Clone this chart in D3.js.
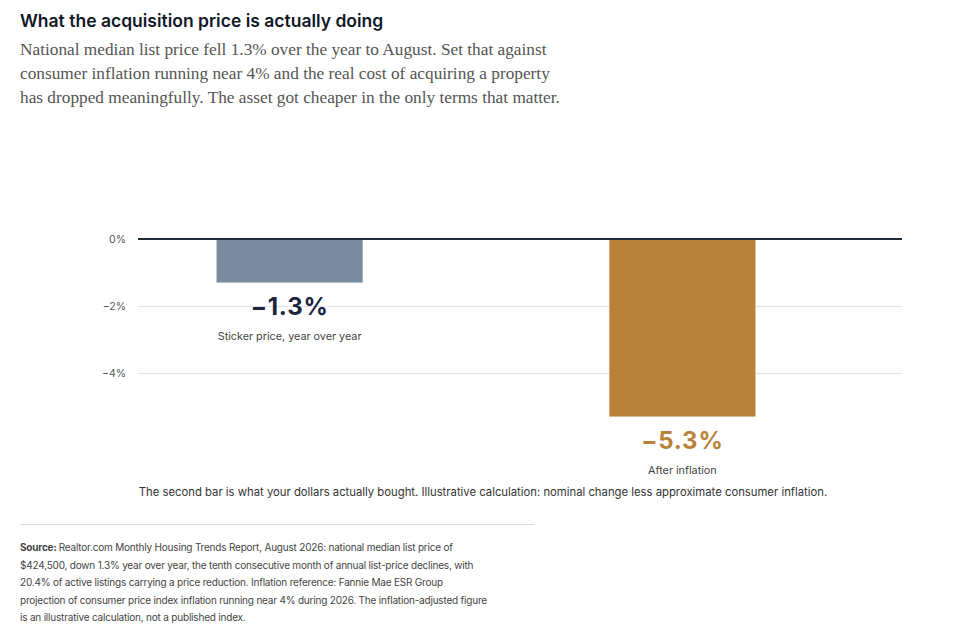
<!DOCTYPE html>
<html>
<head>
<meta charset="utf-8">
<script src="https://cdn.jsdelivr.net/npm/d3@7"></script>
<style>
  body { margin: 0; background: #fff; }
  svg { display: block; }
</style>
</head>
<body>
<svg id="chart"></svg>
<script>
// chart data
const categories = ["Sticker price, year over year", "After inflation"];
const values = [-1.3, -5.3];
const barColors = ["#7a8ba0", "#b8823a"];
const labelColors = ["#1b2540", "#b8823a"];
const yTicks = [0, -2, -4];

const title = "What the acquisition price is actually doing";
const subtitleLines = [
  "National median list price fell 1.3% over the year to August. Set that against",
  "consumer inflation running near 4% and the real cost of acquiring a property",
  "has dropped meaningfully. The asset got cheaper in the only terms that matter."
];
const note = "The second bar is what your dollars actually bought. Illustrative calculation: nominal change less approximate consumer inflation.";
const sourceLines = [
  "Realtor.com Monthly Housing Trends Report, August 2026: national median list price of",
  "$424,500, down 1.3% year over year, the tenth consecutive month of annual list-price declines, with",
  "20.4% of active listings carrying a price reduction. Inflation reference: Fannie Mae ESR Group",
  "projection of consumer price index inflation running near 4% during 2026. The inflation-adjusted figure",
  "is an illustrative calculation, not a published index."
];

const width = 962, height = 639;
const sans = "Inter, 'Liberation Sans', sans-serif";
const serif = "'Liberation Serif', 'DejaVu Serif', serif";

const svg = d3.select("#chart")
  .attr("width", width)
  .attr("height", height)
  .attr("viewBox", [0, 0, width, height]);

svg.append("text")
  .attr("x", 20).attr("y", 27)
  .style("font-family", sans)
  .style("font-size", "17.5px")
  .style("font-weight", 600)
  .attr("fill", "#111827")
  .text(title);

svg.append("g")
  .selectAll("text")
  .data(subtitleLines)
  .join("text")
  .attr("x", 20)
  .attr("y", (d, i) => 55 + i * 24)
  .style("font-family", serif)
  .style("font-size", "17.3px")
  .attr("fill", "#555")
  .text((d) => d);

// scales
const y = d3.scaleLinear().domain([0, -1]).range([239, 272.5]);
const x = d3.scaleBand()
  .domain(categories)
  .range([138, 834])
  .paddingInner(0.628)
  .paddingOuter(0.2);

const gridRight = 902;

// gridlines + tick labels
const axis = svg.append("g")
  .call(
    d3.axisLeft(y)
      .tickValues(yTicks)
      .tickSize(-(gridRight - 138))
      .tickFormat((d) => (d < 0 ? "\u2212" + Math.abs(d) : d) + "%")
  )
  .attr("transform", "translate(138,0)");
axis.select(".domain").remove();
axis.selectAll(".tick line")
  .attr("stroke", "#e2e2ea")
  .attr("stroke-width", 1);
axis.selectAll(".tick text")
  .attr("x", -12)
  .attr("fill", "#555")
  .style("font-family", sans)
  .style("font-size", "10.5px");

// bars
svg.append("g")
  .selectAll("rect")
  .data(values)
  .join("rect")
  .attr("x", (d, i) => x(categories[i]))
  .attr("width", x.bandwidth())
  .attr("y", y(0))
  .attr("height", (d) => y(d) - y(0))
  .attr("fill", (d, i) => barColors[i]);

// zero line
svg.append("line")
  .attr("x1", 138).attr("x2", gridRight)
  .attr("y1", y(0)).attr("y2", y(0))
  .attr("stroke", "#1f2a3a")
  .attr("stroke-width", 2);

// value labels
svg.append("g")
  .selectAll("text")
  .data(values)
  .join("text")
  .attr("x", (d, i) => x(categories[i]) + x.bandwidth() / 2)
  .attr("y", (d) => y(d) + 32)
  .attr("text-anchor", "middle")
  .style("font-family", sans)
  .style("font-size", "24px")
  .style("font-weight", 700)
  .style("letter-spacing", "0.8px")
  .attr("fill", (d, i) => labelColors[i])
  .text((d) => "\u2212" + Math.abs(d).toFixed(1) + "%");

// category labels
svg.append("g")
  .selectAll("text")
  .data(categories)
  .join("text")
  .attr("x", (d) => x(d) + x.bandwidth() / 2)
  .attr("y", (d, i) => y(values[i]) + 57)
  .attr("text-anchor", "middle")
  .style("font-family", sans)
  .style("font-size", "10.8px")
  .attr("fill", "#444")
  .text((d) => d);

svg.append("text")
  .attr("x", 483).attr("y", 496)
  .attr("text-anchor", "middle")
  .style("font-family", sans)
  .style("font-size", "11.3px")
  .attr("fill", "#333")
  .text(note);

svg.append("line")
  .attr("x1", 20).attr("x2", 534)
  .attr("y1", 524.5).attr("y2", 524.5)
  .attr("stroke", "#dcdce4")
  .attr("stroke-width", 1);

const src = svg.append("g")
  .style("font-family", sans)
  .style("font-size", "10px")
  .style("letter-spacing", "-0.2px")
  .attr("fill", "#444");

src.selectAll("text")
  .data(sourceLines)
  .join("text")
  .attr("x", 20)
  .attr("y", (d, i) => 551 + i * 17.5)
  .each(function (d, i) {
    const t = d3.select(this);
    if (i === 0) {
      t.append("tspan").style("font-weight", 700).text("Source: ");
    }
    t.append("tspan").text(d);
  });
</script>
</body>
</html>
